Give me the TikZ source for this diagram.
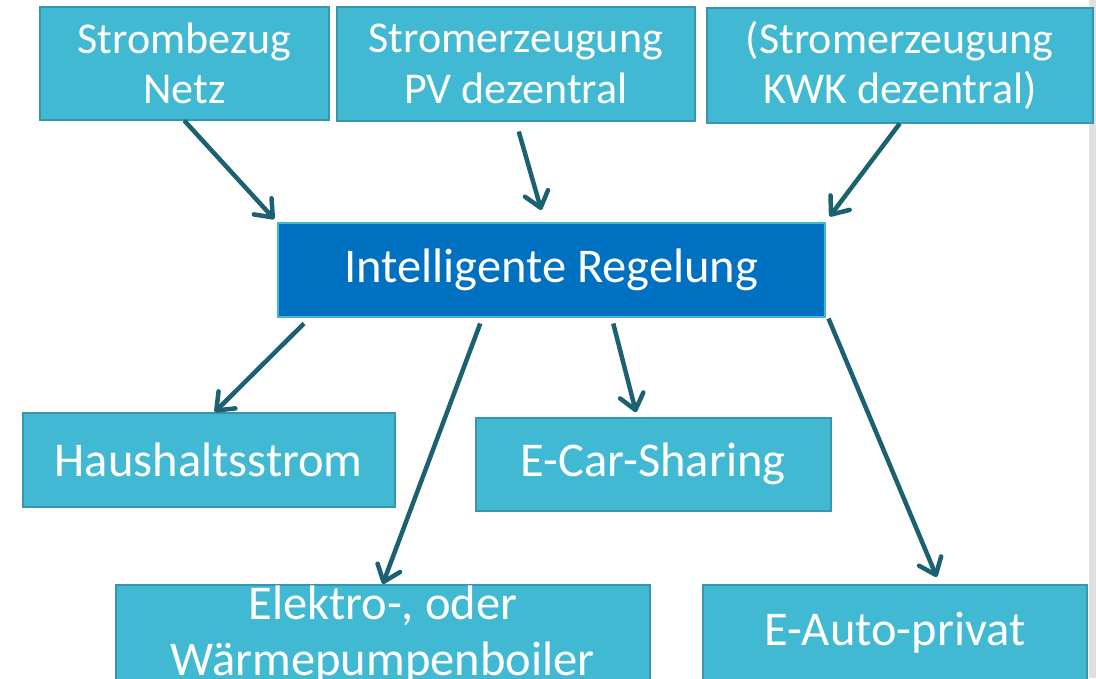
\documentclass[tikz,border=0pt]{standalone}
\usepackage{fontspec}
\setmainfont{Carlito}
\usepackage{tikz}
\usetikzlibrary{calc,arrows.meta}

\definecolor{boxfill}{HTML}{42B9D3}
\definecolor{boxline}{HTML}{3895AC}
\definecolor{regelfill}{HTML}{0070C0}
\definecolor{arrcol}{HTML}{1B6171}
\definecolor{stripgray}{HTML}{E0E0E0}

\begin{document}
\begin{tikzpicture}[x=1pt,y=-1pt,
  box/.style={draw=boxline,line width=1.5pt,fill=boxfill,text=white,align=center,
    inner sep=0pt,anchor=north west},
  topbox/.style={box,font=\fontsize{44}{50.5}\selectfont},
  lowbox/.style={box,font=\fontsize{48.5}{56}\selectfont},
  arr/.style={arrcol,line width=4.5pt,-{Straight Barb[length=15pt,width=24pt,round]}}]
\clip (0,0) rectangle (1096,678);
\fill[stripgray] (1089,0) rectangle (1096,678);
% obere Reihe
\node[topbox,minimum width=289,minimum height=113] (netz) at (39,6) {Strombezug\\Netz};
\node[topbox,minimum width=358,minimum height=114] (pv) at (336,6) {Stromerzeugung\\PV dezentral};
\node[topbox,minimum width=386,minimum height=115] (kwk) at (706,7) {(Stromerzeugung\\KWK dezentral)};
% Mitte
\node[lowbox,fill=regelfill,draw=boxfill,minimum width=547,minimum height=94] (regel) at (277,222) {Intelligente Regelung};
% untere Reihen
\node[lowbox,minimum width=372,minimum height=94] (haus) at (22,412) {Haushaltsstrom};
\node[lowbox,minimum width=355,minimum height=93] (carsharing) at (475,417) {E-Car-Sharing};
\node[lowbox,minimum width=534,minimum height=100] (boiler) at (115,584) {Elektro-, oder\\Wärmepumpenboiler};
\node[lowbox,minimum width=384,minimum height=96] (auto) at (702,584) {E-Auto-privat};
% Pfeile
\draw[arr,shorten >=4pt] (netz.south) -- (regel.north west);
\draw[arr] ($(pv.south)+(3,10)$) -- ($(regel.north)+(-10,-12)$);
\draw[arr,shorten >=7pt] (kwk.south) -- (regel.north east);
\draw[arr] ($(regel.south west)+(27,6)$) -- ($(haus.north)+(6,0)$);
\draw[arr] ($(regel.south)+(-71,6)$) -- (boiler.north);
\draw[arr,shorten >=5pt] ($(regel.south)+(62,6)$) -- ($(carsharing.north)+(-16,0)$);
\draw[arr] ($(regel.south east)+(3,1)$) -- ($(auto.north)+(42,-7)$);
\end{tikzpicture}
\end{document}
